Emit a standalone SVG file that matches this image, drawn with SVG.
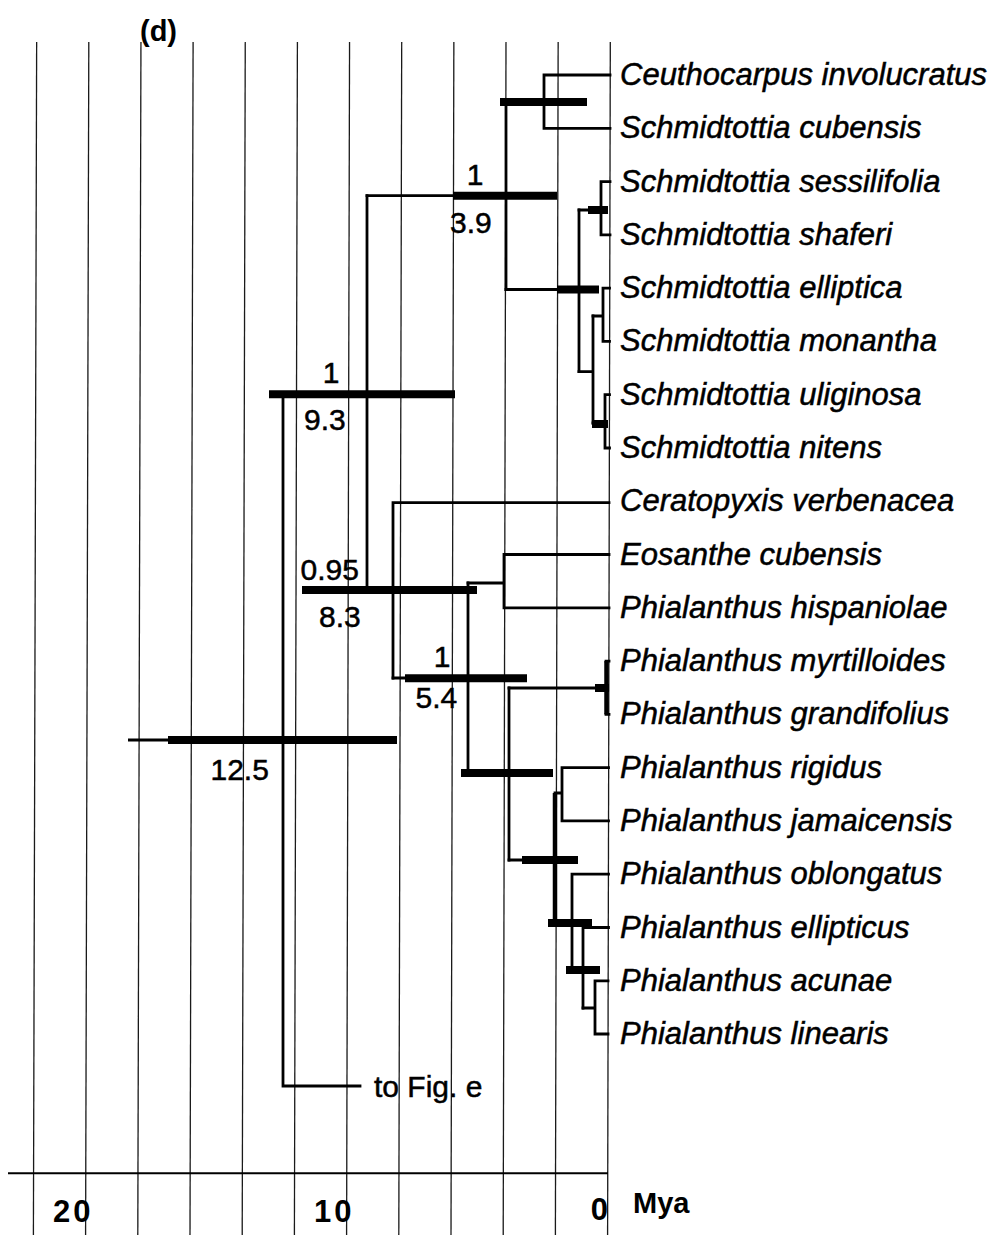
<svg xmlns="http://www.w3.org/2000/svg" width="992" height="1235" viewBox="0 0 992 1235">
<style>
.grid{stroke:#1a1a1a;stroke-width:1.3;fill:none}
.br{stroke:#000;stroke-width:2.8;fill:none;stroke-linecap:square}
.thk{stroke:#000;stroke-width:4.5;fill:none}
.bar{stroke:#000;stroke-width:8;fill:none}
.tx{font-family:"Liberation Sans",Arial,sans-serif;font-style:italic;font-size:31px;fill:#000;stroke:#000;stroke-width:0.5}
.num{font-family:"Liberation Sans",Arial,sans-serif;font-size:30px;fill:#000;stroke:#000;stroke-width:0.5}
.ax{font-family:"Liberation Sans",Arial,sans-serif;font-weight:bold;fill:#000}
</style>
<rect width="992" height="1235" fill="#fff"/>
<g id="grid">
<line class="grid" x1="610.3" y1="42" x2="607.6" y2="1235"/>
<line class="grid" x1="558.15" y1="42" x2="555.4" y2="1235"/>
<line class="grid" x1="506" y1="42" x2="503.2" y2="1235"/>
<line class="grid" x1="453.85" y1="42" x2="451" y2="1235"/>
<line class="grid" x1="401.7" y1="42" x2="398.8" y2="1235"/>
<line class="grid" x1="349.55" y1="42" x2="346.6" y2="1235"/>
<line class="grid" x1="297.4" y1="42" x2="294.4" y2="1235"/>
<line class="grid" x1="245.25" y1="42" x2="242.2" y2="1235"/>
<line class="grid" x1="193.1" y1="42" x2="190" y2="1235"/>
<line class="grid" x1="140.95" y1="42" x2="137.8" y2="1235"/>
<line class="grid" x1="88.8" y1="42" x2="85.6" y2="1235"/>
<line class="grid" x1="36.65" y1="42" x2="33.4" y2="1235"/>
</g>
<g id="axis">
<line x1="8" y1="1173.3" x2="608" y2="1173.3" stroke="#000" stroke-width="2"/>
<text class="ax" x="53" y="1222" font-size="31" letter-spacing="3">20</text>
<text class="ax" x="314" y="1222" font-size="31" letter-spacing="3">10</text>
<text class="ax" x="608" y="1220" font-size="31" text-anchor="end">0</text>
<text class="ax" x="633" y="1213" font-size="29">Mya</text>
</g>
<text id="panel-label" class="ax" x="140" y="41" font-size="29">(d)</text>
<g id="connectors">
<path class="br" d="M544 75H610M544 128.3H610M544 75V128.3M506 102H544"/>
<path class="br" d="M601 181.6H610M601 234.8H610M601 181.6V234.8M579 210H601"/>
<path class="br" d="M603 288.1H609.5M603 341.4H609.5M603 288.1V341.4M593 316H603"/>
<path class="br" d="M605 394.7H609.5M605 448H609.5M605 394.7V448M593 423H605"/>
<path class="br" d="M593 316V423M579 371.7H593"/>
<path class="br" d="M579 210V371.7M506 289.5H579"/>
<path class="br" d="M506 102V289.5M367 195.7H506"/>
<path class="br" d="M367 195.7V590M283 394H367"/>
<path class="br" d="M393 502.7V678M393 502.7H609M367 590H393"/>
<path class="br" d="M468 583V773M393 678H468"/>
<path class="br" d="M504 554.5V607.8M504 554.5H609M504 607.8H609M468 583H504"/>
<path class="br" d="M509 688V860M468 773H509"/>
<path class="br" d="M509 688H606M606 661.1H609M606 714.4H609"/>
<path class="thk" d="M606.5 661.1V714.4"/>
<path class="thk" d="M555 793V923"/>
<path class="br" d="M509 860H555"/>
<path class="br" d="M562 767.6V820.9M562 767.6H608.5M562 820.9H608.5M555 793H562"/>
<path class="br" d="M572 874.2V970M572 874.2H608.5M555 923H572"/>
<path class="br" d="M583 927.5V1008M583 927.5H608.5M572 970H583"/>
<path class="br" d="M595 980.8V1034M595 980.8H608M595 1034H608M583 1008H595"/>
<path class="br" d="M283 394V1086M283 1086H360"/>
</g>
<g id="node-ceuthocarpus-cubensis"><line class="bar" x1="500" y1="102" x2="587" y2="102"/></g>
<g id="node-sessilifolia-shaferi"><line class="bar" x1="588" y1="210" x2="608" y2="210"/></g>
<g id="node-schmidtottia-crown"><line class="bar" x1="557" y1="289.5" x2="599" y2="289.5"/></g>
<g id="node-uliginosa-nitens"><line class="bar" x1="592" y1="424" x2="608" y2="424"/></g>
<g id="node-3-9">
<line class="bar" x1="453" y1="195.7" x2="557" y2="195.7"/>
<text class="num" x="475" y="185" text-anchor="middle">1</text>
<text class="num" x="450" y="233">3.9</text>
</g>
<g id="node-9-3">
<line class="bar" x1="269" y1="394.3" x2="455" y2="394.3"/>
<text class="num" x="331" y="383" text-anchor="middle">1</text>
<text class="num" x="304" y="430">9.3</text>
</g>
<g id="node-8-3">
<line class="bar" x1="302" y1="590" x2="477" y2="590"/>
<text class="num" x="300.5" y="580">0.95</text>
<text class="num" x="319" y="627">8.3</text>
</g>
<g id="node-5-4">
<line class="bar" x1="405" y1="678.3" x2="527" y2="678.3"/>
<text class="num" x="442" y="667" text-anchor="middle">1</text>
<text class="num" x="415.5" y="708">5.4</text>
</g>
<g id="node-myrtilloides-grandifolius"><line class="bar" x1="595" y1="688" x2="609" y2="688" stroke-width="7"/></g>
<g id="node-phialanthus-main"><line class="bar" x1="461" y1="773" x2="553" y2="773"/></g>
<g id="node-rigidus-oblongatus"><line class="bar" x1="522" y1="860" x2="578" y2="860"/></g>
<g id="node-oblongatus-clade"><line class="bar" x1="548" y1="923" x2="592" y2="923"/></g>
<g id="node-ellipticus-clade"><line class="bar" x1="566" y1="970" x2="600" y2="970"/></g>
<g id="node-12-5">
<line x1="128" y1="740" x2="170" y2="740" stroke="#000" stroke-width="3"/>
<line class="bar" x1="168" y1="740" x2="397" y2="740"/>
<text class="num" x="210.5" y="780">12.5</text>
</g>
<g id="to-fig-e"><text class="num" x="374" y="1097" font-size="31">to Fig. e</text></g>
<g id="taxa">
<text class="tx" x="620" y="85">Ceuthocarpus involucratus</text>
<text class="tx" x="620" y="138.3">Schmidtottia cubensis</text>
<text class="tx" x="620" y="191.6">Schmidtottia sessilifolia</text>
<text class="tx" x="620" y="244.8">Schmidtottia shaferi</text>
<text class="tx" x="620" y="298.1">Schmidtottia elliptica</text>
<text class="tx" x="620" y="351.4">Schmidtottia monantha</text>
<text class="tx" x="620" y="404.7">Schmidtottia uliginosa</text>
<text class="tx" x="620" y="458">Schmidtottia nitens</text>
<text class="tx" x="620" y="511.2">Ceratopyxis verbenacea</text>
<text class="tx" x="620" y="564.5">Eosanthe cubensis</text>
<text class="tx" x="620" y="617.8">Phialanthus hispaniolae</text>
<text class="tx" x="620" y="671.1">Phialanthus myrtilloides</text>
<text class="tx" x="620" y="724.4">Phialanthus grandifolius</text>
<text class="tx" x="620" y="777.6">Phialanthus rigidus</text>
<text class="tx" x="620" y="830.9">Phialanthus jamaicensis</text>
<text class="tx" x="620" y="884.2">Phialanthus oblongatus</text>
<text class="tx" x="620" y="937.5">Phialanthus ellipticus</text>
<text class="tx" x="620" y="990.8">Phialanthus acunae</text>
<text class="tx" x="620" y="1044">Phialanthus linearis</text>
</g>
</svg>
